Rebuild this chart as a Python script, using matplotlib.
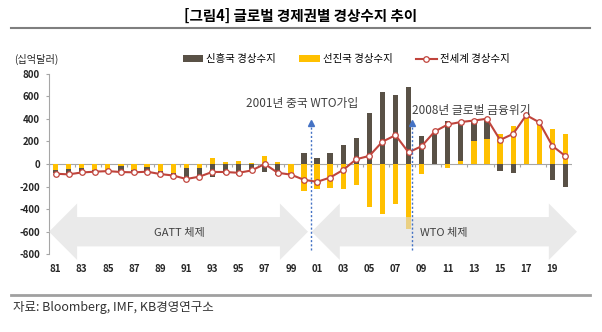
import matplotlib

matplotlib.use("Agg")

import matplotlib.pyplot as plt  # noqa: E402
import numpy as np  # noqa: E402
from matplotlib.lines import Line2D  # noqa: E402
from matplotlib.patches import Patch, Polygon  # noqa: E402

plt.rcParams["font.family"] = ["Noto Sans CJK KR", "DejaVu Sans"]
plt.rcParams["axes.unicode_minus"] = False

# current account balance, billion USD
years = list(range(1981, 2021))
emerging = [-25, -50, -35, -8, -8, -40, -15, -30, -25, -15,
            -100, -85, -115, -85, -100, -75, -72, -100, -10, 95,
            55, 95, 165, 230, 450, 640, 610, 680, 245, 275,
            380, 335, 185, 180, -60, -80, 0, 0, -145, -200]
advanced = [-56, -42, -35, -55, -50, -22, -55, -30, -58, -80,
            -35, -33, 50, 14, 24, 9, 75, 22, -82, -235,
            -220, -215, -220, -190, -380, -440, -355, -575, -85, 0,
            -35, 25, 205, 225, 270, 340, 430, 362, 310, 270]
world = [-86, -92, -75, -68, -63, -71, -74, -68, -89, -102,
         -133, -112, -70, -71, -78, -57, 0, -78, -94, -140,
         -158, -120, -52, 42, 72, 198, 255, 103, 158, 288,
         350, 372, 385, 401, 213, 267, 433, 369, 160, 70]
tick_labels = ["81", "83", "85", "87", "89", "91", "93", "95", "97", "99",
               "01", "03", "05", "07", "09", "11", "13", "15", "17", "19"]
y_ticks = [-800, -600, -400, -200, 0, 200, 400, 600, 800]

series_names = ["신흥국 경상수지", "선진국 경상수지", "전세계 경상수지"]
events = [("2001년 중국 WTO가입", 19.5, 14.6, 540),
          ("2008년 글로벌 금융위기", 27.25, 27.25, 478)]
eras = [("GATT 체제", -0.5, 19.31, 9.45), ("WTO 체제", 19.59, 39.88, 29.7)]

DARK = "#595146"
YELLOW = "#FFC000"
RED = "#C0443C"
BLUE = "#4472C4"
GRID = "#A6A6A6"


def block_arrow(x0, x1, yc, head=2.15, half_head=250, half_shaft=130):
    pts = [(x0, yc), (x0 + head, yc + half_head), (x0 + head, yc + half_shaft),
           (x1 - head, yc + half_shaft), (x1 - head, yc + half_head), (x1, yc),
           (x1 - head, yc - half_head), (x1 - head, yc - half_shaft),
           (x0 + head, yc - half_shaft), (x0 + head, yc - half_head)]
    return Polygon(pts, closed=True, facecolor="#DCDCDC", edgecolor="none",
                   alpha=0.6, zorder=4, clip_on=False)


fig = plt.figure(figsize=(6.02, 3.32), dpi=100)
ax = fig.add_axes([49 / 602, 1 - 254.3 / 332, 523 / 602, 180.6 / 332])

x = np.arange(len(years))
em = np.array(emerging, dtype=float)
adv = np.array(advanced, dtype=float)
# stacked the way a spreadsheet does: same-sign values pile on the first series
em_bottom = np.where(np.sign(em) == np.sign(adv), adv, 0)

ax.bar(x, adv, width=0.4, color=YELLOW, zorder=2)
ax.bar(x, em, bottom=em_bottom, width=0.4, color=DARK, zorder=2)
ax.plot(x, world, color=RED, lw=1.5, marker="o", ms=4, mfc="white",
        mec=RED, mew=0.9, zorder=3)

# category axis sits on zero
ax.axhline(0, color=GRID, lw=0.8, zorder=1.5)
ax.vlines(np.arange(-0.5, len(years), 2), -24, 0, color=GRID, lw=0.8, zorder=1.5)

ax.set_xlim(-0.5, len(years) - 0.5)
ax.set_ylim(-800, 800)
ax.set_yticks(y_ticks)
ax.set_xticks(x[::2])
ax.set_xticklabels(tick_labels)
for side in ("top", "right", "bottom"):
    ax.spines[side].set_visible(False)
ax.spines["left"].set_color(GRID)
ax.spines["left"].set_linewidth(0.8)
ax.tick_params(axis="y", length=2.5, color=GRID, labelsize=7, pad=4,
               labelcolor="#262626")
ax.tick_params(axis="x", length=0, labelsize=7, pad=7, labelcolor="#262626")
plt.setp(ax.get_yticklabels(), fontweight="bold")
plt.setp(ax.get_xticklabels(), fontweight="bold")

for label, x0, x1, xc in eras:
    ax.add_patch(block_arrow(x0, x1, -600))
    ax.text(xc, -615, label, ha="center", va="center", fontsize=8,
            color="#404040", zorder=5)

for label, xe, xt, yt in events:
    ax.plot([xe, xe], [-765, 335], ls=(0, (1.5, 1.5)), color=BLUE, lw=1,
            zorder=5)
    ax.plot([xe], [365], marker="^", ms=5, color=BLUE, zorder=5)
    ax.text(xt, yt, label, ha="left", va="center", fontsize=8.5,
            color="#404040", zorder=5)

handles = [Patch(facecolor=DARK), Patch(facecolor=YELLOW),
           Line2D([], [], color=RED, lw=1.5, marker="o", ms=4, mfc="white",
                  mec=RED, mew=0.9)]
fig.legend(handles, series_names, ncol=3, loc="center",
           bbox_to_anchor=(346 / 602, 1 - 59 / 332), frameon=False,
           fontsize=7.5, handlelength=2.0, handleheight=0.6,
           handletextpad=0.3, columnspacing=2.2)

fig.text(0.5, 1 - 16 / 332, "[그림4] 글로벌 경제권별 경상수지 추이",
         ha="center", va="center", fontsize=10.5, fontweight="bold")
fig.add_artist(Line2D([11 / 602, 590 / 602], [1 - 27.5 / 332] * 2,
                      color="#7F7F7F", lw=1.5))
fig.text(14 / 602, 1 - 59 / 332, "(십억달러)", ha="left", va="center",
         fontsize=7.3, color="#262626")
fig.add_artist(Line2D([11 / 602, 590 / 602], [1 - 295 / 332] * 2,
                      color="#A0A0A0", lw=2))
fig.text(13 / 602, 1 - 307 / 332, "자료: Bloomberg, IMF, KB경영연구소",
         ha="left", va="center", fontsize=9, color="#333333")

fig.savefig("out.png", dpi=100)
plt.close(fig)
